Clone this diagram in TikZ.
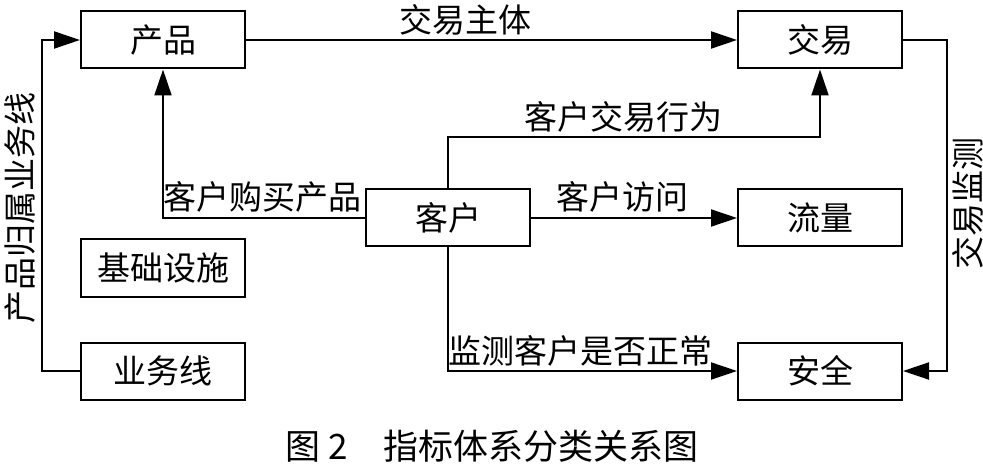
\documentclass[tikz,border=0pt]{standalone}
\usepackage{fontspec}
\newfontfamily\cjk{Noto Sans CJK SC}
\usetikzlibrary{arrows.meta}
\begin{document}
\begin{tikzpicture}[x=0.5pt,y=-0.5pt]
\tikzstyle{box node}=[rectangle,draw,line width=1pt,minimum width=82pt,minimum height=28.5pt,inner sep=0,font=\cjk\fontsize{16.5}{18}\selectfont]
\tikzset{
	link/.style={line width=1pt,-{Triangle[length=13pt,width=8.5pt]}},
	label node/.style={inner sep=0,font=\cjk\fontsize{16.5}{18}\selectfont}
}
\useasboundingbox (0,0) rectangle (983,464);
\node[box node] (chanpin) at (163,40) {产品};
\node[box node] (jiaoyi) at (820,40) {交易};
\node[box node] (kehu) at (448,218) {客户};
\node[box node] (liuliang) at (820,218) {流量};
\node[box node] (jichu) at (163,268) {基础设施};
\node[box node] (yewu) at (163,371) {业务线};
\node[box node] (anquan) at (820,371) {安全};
\coordinate (kehutop) at (448,137);
\coordinate (yewuleft) at (42,371);
\coordinate (jiaoyiright) at (947,40);
\draw[link] (chanpin) -- (jiaoyi);
\draw[link] (kehu.north) -- (kehutop) -| (jiaoyi.south);
\draw[link] (kehu.west) -| (chanpin.south);
\draw[link] (kehu) -- (liuliang);
\draw[link] (kehu.south) |- (anquan.west);
\draw[link] (jiaoyi.east) -- (jiaoyiright) |- (anquan.east);
\draw[link] (yewu.west) -- (yewuleft) |- (chanpin.west);
\node[label node] (zhuti) at (465,20) {交易主体};
\node[label node] (xingwei) at (623,117) {客户交易行为};
\node[label node] (goumai) at (262,197) {客户购买产品};
\node[label node] (fangwen) at (622,197) {客户访问};
\node[label node] (jiance) at (580,351) {监测客户是否正常};
\node[label node,rotate=90] (jyjc) at (968,204) {交易监测};
\node[label node,rotate=90] (guishu) at (20,208) {产品归属业务线};
\node[label node,font=\cjk\fontsize{17.5}{20}\selectfont] (caption) at (492,446) {图 2\quad 指标体系分类关系图};
\end{tikzpicture}
\end{document}
